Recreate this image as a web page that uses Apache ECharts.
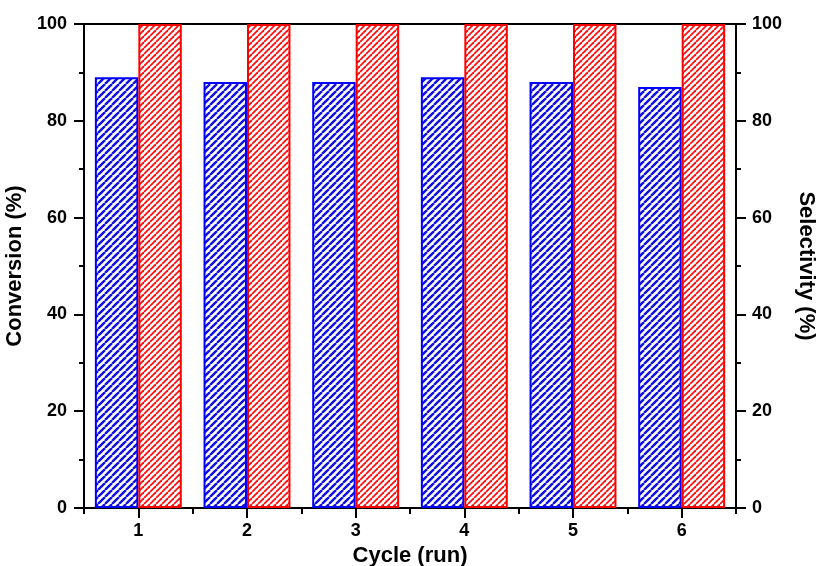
<!DOCTYPE html>
<html>
<head>
<meta charset="utf-8">
<script src="https://cdn.jsdelivr.net/npm/echarts@6/dist/echarts.min.js"></script>
<style>
html, body { margin: 0; padding: 0; background: #fff; }
#main { width: 819px; height: 566px; }
</style>
</head>
<body>
<div id="main"></div>
<script>
var cycles = ['1', '2', '3', '4', '5', '6'];
var conversion = [89, 88, 88, 89, 88, 87];   // blue bars
var selectivity = [100, 100, 100, 100, 100, 100];  // red bars

// hatch fill "/" drawn on a small canvas
function makeHatch(color, size, lw) {
    var c = document.createElement('canvas');
    c.width = size; c.height = size;
    var ctx = c.getContext('2d');
    ctx.fillStyle = '#fff';
    ctx.fillRect(0, 0, size, size);
    ctx.strokeStyle = color;
    ctx.lineWidth = lw;
    for (var o = -size; o <= size; o += size) {
        ctx.beginPath();
        ctx.moveTo(o, size);
        ctx.lineTo(o + size, 0);
        ctx.stroke();
    }
    return { image: c, repeat: 'repeat' };
}

var font = 'Liberation Sans, Arial, sans-serif';
var chart = echarts.init(document.getElementById('main'));

var yCommon = {
    type: 'value', min: 0, max: 100, interval: 20,
    splitLine: { show: false },
    axisLine: { show: true, lineStyle: { color: '#000', width: 2 } },
    axisTick: { show: true, inside: false, length: 10, lineStyle: { color: '#000', width: 2 } },
    minorTick: { show: true, splitNumber: 2, length: 5, lineStyle: { color: '#000', width: 2 } },
    nameLocation: 'middle',
    nameTextStyle: { fontFamily: font, fontWeight: 'bold', fontSize: 22, color: '#000' }
};

chart.setOption({
    backgroundColor: '#fff',
    animation: false,
    grid: {
        left: 84, right: 83, top: 24, bottom: 58, outerBoundsMode: 'none', containLabel: false,
        show: true, borderColor: '#000', borderWidth: 2, backgroundColor: 'transparent'
    },
    xAxis: [{
        type: 'category', data: cycles, position: 'bottom',
        axisLine: { show: true, lineStyle: { color: '#000', width: 2 } },
        axisTick: { show: true, alignWithLabel: true, length: 10, lineStyle: { color: '#000', width: 2 } },
        axisLabel: { margin: 14, fontFamily: font, fontWeight: 'bold', fontSize: 18, color: '#000' },
        name: 'Cycle (run)', nameLocation: 'middle', nameGap: 30,
        nameTextStyle: { fontFamily: font, fontWeight: 'bold', fontSize: 22, color: '#000' }
    }, {
        type: 'category', data: cycles, position: 'bottom',
        axisLine: { show: false },
        axisTick: { show: true, length: 6, lineStyle: { color: '#000', width: 2 } },
        axisLabel: { show: false }
    }],
    yAxis: [
        echarts.util.merge({
            position: 'left', name: 'Conversion (%)', nameGap: 52, nameRotate: 90,
            axisLabel: { margin: 17, fontFamily: font, fontWeight: 'bold', fontSize: 18, color: '#000' }
        }, yCommon),
        echarts.util.merge({
            position: 'right', name: 'Selectivity (%)', nameGap: 59, nameRotate: -90,
            axisLabel: { margin: 16, fontFamily: font, fontWeight: 'bold', fontSize: 18, color: '#000' }
        }, yCommon)
    ],
    series: [{
        name: 'Conversion', type: 'bar', xAxisIndex: 0, yAxisIndex: 0,
        data: conversion, barGap: '0%', barCategoryGap: '20%',
        itemStyle: { color: makeHatch('#1010e0', 7, 2.4), borderColor: '#0000ff', borderWidth: 2 }
    }, {
        name: 'Selectivity', type: 'bar', xAxisIndex: 0, yAxisIndex: 1,
        data: selectivity, barGap: '0%', barCategoryGap: '20%',
        itemStyle: { color: makeHatch('#ff1010', 6, 1.8), borderColor: '#ff0000', borderWidth: 2 }
    }]
});
</script>
</body>
</html>
